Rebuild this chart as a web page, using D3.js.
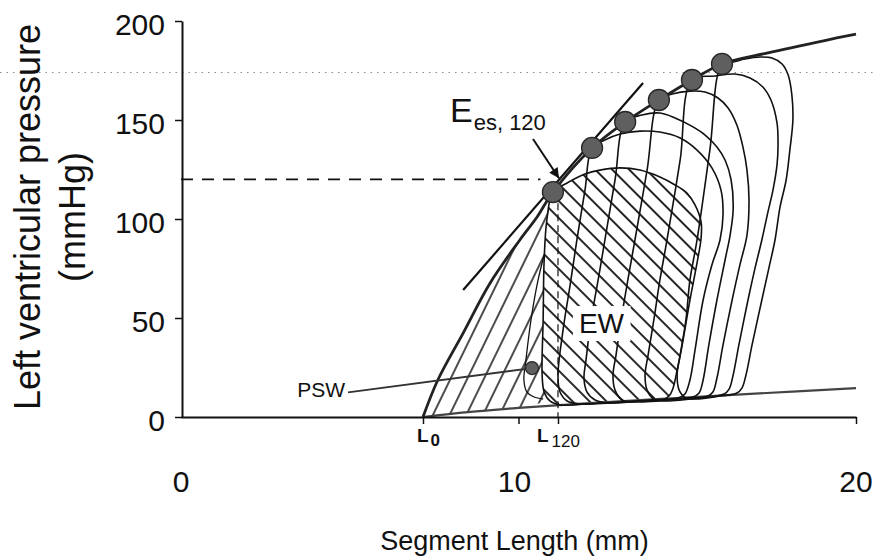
<!DOCTYPE html>
<html>
<head>
<meta charset="utf-8">
<script src="https://cdn.jsdelivr.net/npm/d3@7"></script>
<style>
  html, body { margin: 0; padding: 0; background: #fff; }
  svg { display: block; }
  text { font-family: "Liberation Sans", Arial, Helvetica, sans-serif; fill: #111; }
</style>
</head>
<body>
<svg id="chart" width="877" height="559"></svg>
<script>
// ---- axis ticks ----------------------------------------------------------
const xTicks = [0, 10, 20];
const yTicks = [0, 50, 100, 150, 200];
const L0 = 7.17;          // unloaded segment length (mm)
const L120 = 11.17;       // segment length at 120 mmHg (mm)
const refPressure = 120;  // mmHg
const gridPressure = 174; // faint dotted reference level

// ---- end-systolic pressure-length relation [length mm, pressure mmHg] ----
const espvr = [
  [7.17, 0], [7.61, 18.7], [8.36, 42.4], [9.16, 67.7], [10.04, 89.4],
  [10.55, 101], [11.02, 113.6], [12.18, 135.9], [13.16, 149], [14.16, 160.1],
  [15.14, 170.2], [16.03, 178.3], [17.36, 183.8], [19.14, 190.4], [20, 193.4]
];
// end-systolic points of the six beats
const esPoints = [
  [11.02, 113.6], [12.18, 135.9], [13.16, 149], [14.16, 160.1], [15.14, 170.2], [16.03, 178.3]
];
// end-diastolic pressure-length relation
const edpvr = [
  [7.17, 0], [8.5, 2.5], [10, 4.6], [12, 6.9], [14.4, 9.3], [17, 11.8], [20, 14.6]
];
// slope (Ees) drawn through the 120 mmHg beat
const tangent = [[8.36, 64.1], [13.69, 168.7]];

// ---- pressure-length loops, smallest to largest --------------------------
const loop1 = [
  [11.02, 113.6], [10.84, 99.5], [10.76, 79.3], [10.73, 49.0], [10.70, 21.2], [10.76, 12.6],
  [10.93, 8.1], [11.23, 6.1], [12.41, 7.1], [13.60, 8.1], [14.25, 8.6], [14.46, 10.6],
  [14.58, 14.6], [14.70, 23.7], [14.84, 35.4], [15.08, 59.1], [15.29, 77.8], [15.41, 90.4],
  [15.41, 98.5], [15.23, 107.1], [14.99, 113.1], [14.64, 117.2], [14.19, 121.2], [13.60, 124.7],
  [13.01, 125.8], [12.41, 124.7], [11.97, 122.7], [11.44, 118.2]
];
const loop2 = [
  [12.18, 135.9], [11.97, 114.6], [11.73, 89.4], [11.53, 66.7], [11.32, 43.9], [11.17, 21.2],
  [11.23, 12.6], [11.44, 8.1], [11.82, 6.6], [13.60, 8.1], [14.73, 9.6], [14.93, 11.6],
  [15.08, 18.7], [15.23, 33.8], [15.47, 59.1], [15.73, 76.8], [15.97, 89.4], [16.06, 102],
  [16.00, 114.6], [15.73, 125.8], [15.29, 134.8], [14.79, 140.9], [14.19, 143.9], [13.60, 144.4],
  [13.01, 142.9], [12.56, 139.9]
];
const loop3 = [
  [13.16, 149.0], [12.86, 119.7], [12.56, 89.4], [12.36, 69.2], [12.15, 49.0], [12.00, 28.8],
  [11.94, 19.7], [12.03, 12.6], [12.27, 8.6], [12.65, 7.1], [13.90, 8.6], [15.17, 10.1],
  [15.35, 12.1], [15.47, 18.7], [15.64, 36.4], [15.88, 59.1], [16.12, 79.3], [16.27, 91.9],
  [16.36, 104.5], [16.30, 119.7], [16.12, 129.8], [15.88, 136.4], [15.53, 142.4], [15.17, 146.5],
  [14.64, 151.0], [14.19, 153.5], [13.66, 152.5]
];
const loop4 = [
  [14.16, 160.1], [13.81, 124.7], [13.45, 89.4], [13.24, 69.2], [13.04, 49.0], [12.89, 31.3],
  [12.80, 21.2], [12.86, 13.6], [13.07, 8.6], [13.45, 7.6], [14.79, 9.1], [15.61, 10.6],
  [15.76, 12.6], [15.88, 19.7], [16.06, 36.4], [16.33, 59.1], [16.56, 76.8], [16.77, 91.9],
  [16.83, 109.6], [16.77, 124.7], [16.65, 136.4], [16.47, 147.5], [16.21, 156.1], [15.91, 161.1],
  [15.53, 164.1], [15.08, 164.6], [14.55, 163.1]
];
const loop5 = [
  [15.14, 170.2], [14.79, 129.8], [14.40, 89.4], [14.19, 69.2], [14.01, 49.0], [13.84, 31.3],
  [13.75, 21.2], [13.81, 13.6], [14.01, 9.1], [14.34, 8.1], [15.38, 9.6], [16.09, 11.6],
  [16.24, 14.1], [16.36, 21.2], [16.53, 36.4], [16.80, 59.1], [17.01, 75.3], [17.21, 89.4],
  [17.39, 103.5], [17.54, 114.6], [17.66, 127.3], [17.69, 137.4], [17.66, 148.5], [17.48, 160.1],
  [17.24, 166.7], [16.86, 171.2], [16.41, 173.2], [15.82, 172.2]
];
const loop6 = [
  [16.03, 178.3], [15.67, 134.8], [15.29, 89.4], [15.08, 69.2], [14.96, 49.0], [14.79, 31.3],
  [14.70, 21.2], [14.76, 13.6], [14.96, 9.6], [15.26, 9.1], [15.97, 10.6], [16.47, 12.1],
  [16.62, 14.6], [16.74, 21.2], [16.92, 36.4], [17.21, 59.1], [17.42, 75.3], [17.60, 89.4],
  [17.75, 106.1], [17.93, 119.7], [18.04, 134.8], [18.13, 150.0], [18.10, 162.6], [17.99, 172.7],
  [17.81, 178.3], [17.51, 181.3], [17.16, 181.8], [16.71, 180.8], [16.36, 179.3]
];
const loops = [loop1, loop2, loop3, loop4, loop5, loop6];

// narrow isovolumic outline beside L120
const sliver = [
  [10.76, 81.8], [10.58, 69.2], [10.37, 49.0], [10.22, 28.8], [10.16, 18.7],
  [10.25, 12.6], [10.46, 10.1], [10.73, 9.1]
];

// PSW marker and its leader
const pswDot = [10.4, 24.7];
const pswLeader = [[4.95, 12.4], [10.4, 24.7]];
// arrow pointing at the Ees label target
const arrowPts = [[10.43, 140.4], [11.2, 120.6]];

// annotation anchors [length, pressure]
const eesLabelAt = [7.97, 149];
const ewLabelAt = [11.79, 42.4];
const pswLabelAt = [4.86, 10.1];

// ---- scales ----------------------------------------------------------------
const W = 877, H = 559;
const x = d3.scaleLinear().domain([0, 20]).range([181, 856]);
const y = d3.scaleLinear().domain([0, 200]).range([417, 21]);

const svg = d3.select("#chart");
const defs = svg.append("defs");

// hatch patterns
defs.append("pattern")
  .attr("id", "hatchEW").attr("patternUnits", "userSpaceOnUse")
  .attr("width", 12).attr("height", 12).attr("patternTransform", "rotate(-45)")
  .append("line").attr("x1", 1).attr("y1", -1).attr("x2", 1).attr("y2", 13)
  .attr("stroke", "#000").attr("stroke-width", 1.7);
defs.append("pattern")
  .attr("id", "hatchPSW").attr("patternUnits", "userSpaceOnUse")
  .attr("width", 15).attr("height", 15).attr("patternTransform", "rotate(26)")
  .append("line").attr("x1", 1).attr("y1", -1).attr("x2", 1).attr("y2", 16)
  .attr("stroke", "#000").attr("stroke-width", 1.4);

defs.append("marker")
  .attr("id", "arrowHead").attr("viewBox", "0 0 10 10")
  .attr("refX", 10).attr("refY", 5)
  .attr("markerWidth", 15).attr("markerHeight", 10)
  .attr("markerUnits", "userSpaceOnUse").attr("orient", "auto")
  .append("path").attr("d", "M0,0L10,5L0,10Z").attr("fill", "#111");

const lineSmooth = d3.line().x(d => x(d[0])).y(d => y(d[1])).curve(d3.curveCatmullRom.alpha(0.5));
const lineClosed = d3.line().x(d => x(d[0])).y(d => y(d[1])).curve(d3.curveCatmullRomClosed.alpha(0.5));
const lineStraight = d3.line().x(d => x(d[0])).y(d => y(d[1]));

// faint dotted reference level across the figure
svg.append("line")
  .attr("x1", 0).attr("x2", W)
  .attr("y1", y(gridPressure)).attr("y2", y(gridPressure))
  .attr("stroke", "#8c8c8c").attr("stroke-width", 1.2)
  .attr("stroke-dasharray", "1.5,5");

// potential work region: under ESPVR, left of the 120 mmHg beat
const pswRegion = espvr.filter(d => d[0] <= esPoints[0][0])
  .concat(loop1.slice(1, 7))
  .concat(edpvr.filter(d => d[0] > L0 && d[0] < loop1[6][0]).reverse());
svg.append("path")
  .attr("d", lineStraight(pswRegion) + "Z")
  .attr("fill", "url(#hatchPSW)").attr("stroke", "none");

// external work region: the 120 mmHg loop
svg.append("path")
  .attr("d", lineClosed(loop1))
  .attr("fill", "url(#hatchEW)").attr("stroke", "none");

// end-diastolic relation
svg.append("path")
  .attr("d", lineSmooth(edpvr))
  .attr("fill", "none").attr("stroke", "#444").attr("stroke-width", 2.2);

// loops
svg.append("g").selectAll("path").data(loops).join("path")
  .attr("d", d => lineClosed(d))
  .attr("fill", "none").attr("stroke", "#111").attr("stroke-width", 1.6);

svg.append("path")
  .attr("d", lineSmooth(sliver))
  .attr("fill", "none").attr("stroke", "#111").attr("stroke-width", 1.3);

// EW label sits on a cleared patch inside the hatching
const ewText = svg.append("text")
  .attr("x", x(ewLabelAt[0])).attr("y", y(ewLabelAt[1]))
  .attr("font-size", 28).text("EW");
const ewBox = ewText.node().getBBox();
svg.insert("rect", () => ewText.node())
  .attr("x", ewBox.x - 6).attr("y", ewBox.y - 2)
  .attr("width", ewBox.width + 12).attr("height", ewBox.height + 4)
  .attr("fill", "#fff");

// dashed guides at 120 mmHg and L120
svg.append("path")
  .attr("d", lineStraight([[0, refPressure], [10.65, refPressure]]))
  .attr("stroke", "#111").attr("stroke-width", 1.6).attr("stroke-dasharray", "12,9");
svg.append("path")
  .attr("d", lineStraight([[L120, 108], [L120, 0]]))
  .attr("stroke", "#111").attr("stroke-width", 1.2).attr("stroke-dasharray", "7,4");

// Ees slope line
svg.append("path")
  .attr("d", lineStraight(tangent))
  .attr("stroke", "#111").attr("stroke-width", 2.2);

// ESPVR
svg.append("path")
  .attr("d", lineSmooth(espvr))
  .attr("fill", "none").attr("stroke", "#222").attr("stroke-width", 2.8);

// end-systolic points
svg.append("g").selectAll("circle").data(esPoints).join("circle")
  .attr("cx", d => x(d[0])).attr("cy", d => y(d[1])).attr("r", 10.5)
  .attr("fill", "#5f5f5f").attr("stroke", "#262626").attr("stroke-width", 1.3);

// PSW leader and marker
svg.append("path")
  .attr("d", lineStraight(pswLeader))
  .attr("stroke", "#333").attr("stroke-width", 1.8);
svg.append("circle")
  .attr("cx", x(pswDot[0])).attr("cy", y(pswDot[1])).attr("r", 6.5)
  .attr("fill", "#5f5f5f").attr("stroke", "#262626").attr("stroke-width", 1.2);

// arrow to the Ees label
svg.append("path")
  .attr("d", lineStraight(arrowPts))
  .attr("stroke", "#111").attr("stroke-width", 2)
  .attr("marker-end", "url(#arrowHead)");

// ---- axes -------------------------------------------------------------------
const yAxis = svg.append("g")
  .attr("transform", `translate(${x(0) + 1},0)`)
  .call(d3.axisLeft(y).tickValues(yTicks).tickSize(7).tickSizeOuter(0).tickFormat(""));
yAxis.select(".domain").attr("stroke", "#111").attr("stroke-width", 2);
yAxis.selectAll(".tick line").attr("stroke", "#111").attr("stroke-width", 1.5);

const xAxis = svg.append("g")
  .attr("transform", `translate(0,${y(0)})`)
  .call(d3.axisBottom(x).tickValues([L0, 10, L120, 20]).tickSize(7).tickSizeOuter(0).tickFormat(""));
xAxis.select(".domain").attr("stroke", "#111").attr("stroke-width", 2.2);
xAxis.selectAll(".tick line").attr("stroke", "#111").attr("stroke-width", 1.5);

// tick labels
svg.append("g").selectAll("text").data(yTicks).join("text")
  .attr("x", x(0) - 16).attr("y", d => y(d) + 14)
  .attr("text-anchor", "end").attr("font-size", 30)
  .text(d => d);
svg.append("g").selectAll("text").data(xTicks).join("text")
  .attr("x", d => x(d) - (d === 10 ? 4 : 0)).attr("y", y(0) + 75)
  .attr("text-anchor", "middle").attr("font-size", 30)
  .text(d => d);

// length markers under the axis
const l0Text = svg.append("text")
  .attr("x", x(L0) - 6).attr("y", y(0) + 25)
  .attr("font-size", 19).attr("font-weight", "bold");
l0Text.append("tspan").text("L");
l0Text.append("tspan").attr("font-size", 17).attr("dy", 4).attr("dx", 2).text("0");

const l120Text = svg.append("text")
  .attr("x", x(L120) - 21).attr("y", y(0) + 25)
  .attr("font-size", 19).attr("font-weight", "bold");
l120Text.append("tspan").text("L");
l120Text.append("tspan").attr("font-size", 17).attr("dy", 5).attr("dx", 3).attr("font-weight", "normal").text("120");

// axis titles
svg.append("text")
  .attr("x", (x(0) + x(20)) / 2 - 4).attr("y", 550)
  .attr("text-anchor", "middle").attr("font-size", 27)
  .text("Segment Length (mm)");

const yMid = y(101);
svg.append("text")
  .attr("transform", `translate(40,${yMid}) rotate(-90)`)
  .attr("text-anchor", "middle").attr("font-size", 36)
  .text("Left ventricular pressure");
svg.append("text")
  .attr("transform", `translate(85,${yMid}) rotate(-90)`)
  .attr("text-anchor", "middle").attr("font-size", 36)
  .text("(mmHg)");

// annotations
const eesText = svg.append("text")
  .attr("x", x(eesLabelAt[0])).attr("y", y(eesLabelAt[1]))
  .attr("font-size", 34);
eesText.append("tspan").text("E");
eesText.append("tspan").attr("font-size", 22).attr("dy", 8).attr("dx", 1).text("es, 120");

svg.append("text")
  .attr("x", x(pswLabelAt[0])).attr("y", y(pswLabelAt[1]))
  .attr("text-anchor", "end").attr("font-size", 21).text("PSW");
</script>
</body>
</html>
